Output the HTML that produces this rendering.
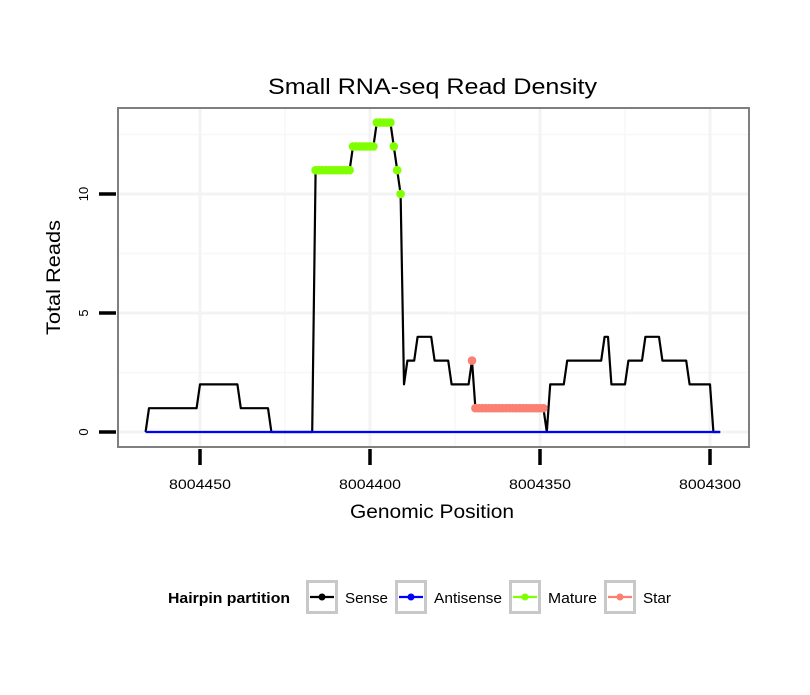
<!DOCTYPE html>
<html><head><meta charset="utf-8"><style>
body{margin:0;background:#fff}
svg text{font-family:"Liberation Sans",sans-serif}
</style></head><body>
<svg id="chart" width="810" height="690" xmlns="http://www.w3.org/2000/svg">
<rect x="0" y="0" width="810" height="690" fill="#fff"/>
<text x="268" y="94" font-size="22" textLength="329" lengthAdjust="spacingAndGlyphs">Small RNA-seq Read Density</text>
<rect x="118" y="108" width="631" height="339" fill="#fff"/>
<g id="grid"></g>
<g id="series"></g>
<rect x="118" y="108" width="631" height="339" fill="none" stroke="#7f7f7f" stroke-width="2"/>
<g id="axes"></g>
<text x="350" y="518" font-size="19" textLength="164" lengthAdjust="spacingAndGlyphs">Genomic Position</text>
<text transform="translate(60,335) rotate(-90)" font-size="19" textLength="115" lengthAdjust="spacingAndGlyphs">Total Reads</text>
<g>
<text x="168" y="603" font-size="15" font-weight="bold" textLength="122" lengthAdjust="spacingAndGlyphs">Hairpin partition</text>
<g id="legend"></g>
</g>
</svg>
<script>
const startPos = 8004466;
const senseValues = [0,
1,1,1,1,1,1,1,1,1,1,1,1,1,1,1,
2,2,2,2,2,2,2,2,2,2,2,2,
1,1,1,1,1,1,1,1,1,
0,0,0,0,0,0,0,0,0,0,0,0,0,
11,11,11,11,11,11,11,11,11,11,11,
12,12,12,12,12,12,12,
13,13,13,13,13,
12,11,10,
2,
3,3,3,
4,4,4,4,4,
3,3,3,3,3,
2,2,2,2,2,2,
3,
1,1,1,1,1,1,1,1,1,1,1,1,1,1,1,1,1,1,1,1,1,
0,
2,2,2,2,2,
3,3,3,3,3,3,3,3,3,3,3,
4,4,
2,2,2,2,2,
3,3,3,3,3,
4,4,4,4,4,
3,3,3,3,3,3,3,3,
2,2,2,2,2,2,2,
0,0,0];
const matureRange = [8004416, 8004391];
const starRange = [8004370, 8004349];
const xTicks = [8004450, 8004400, 8004350, 8004300];
const xMinor = [8004425, 8004375, 8004325];
const yTicks = [0, 5, 10];
const yMinor = [2.5, 7.5, 12.5];
const legendLabels = ["Sense","Antisense","Mature","Star"];
const legendColors = ["#000000","#0000ff","#7fff00","#fa8072"];

const NS = "http://www.w3.org/2000/svg";
function X(p){ return 200 + (8004450 - p) * 3.4; }
function Y(v){ return 432 - v * 23.8; }
function mk(tag, attrs, parent){ const e = document.createElementNS(NS, tag); for (const k in attrs) e.setAttribute(k, attrs[k]); parent.appendChild(e); return e; }

const grid = document.getElementById('grid');
xMinor.forEach(p=>{ const l=mk('line',{x1:X(p),x2:X(p),y1:108,y2:447,stroke:'#f7f7f7','stroke-width':1.5},grid);

 });
yMinor.forEach(v=>{ const l=mk('line',{x1:118,x2:749,y1:Y(v),y2:Y(v),stroke:'#f7f7f7','stroke-width':1.5},grid);

 });
xTicks.forEach(p=>{ const l=mk('line',{x1:X(p),x2:X(p),y1:108,y2:447,stroke:'#f3f3f3','stroke-width':3},grid);

 });
yTicks.forEach(v=>{ const l=mk('line',{x1:118,x2:749,y1:Y(v),y2:Y(v),stroke:'#f3f3f3','stroke-width':3},grid);

 });

const series = document.getElementById('series');
const pts = senseValues.map((v,i)=>[X(startPos - i), Y(v)]);
const sense = mk('polyline',{points:pts.map(p=>p.join(',')).join(' '),fill:'none',stroke:'#000','stroke-width':2.2,'stroke-linejoin':'round'},series);


const anti = mk('line',{x1:X(startPos),x2:X(startPos-senseValues.length+1),y1:Y(0),y2:Y(0),stroke:'#0000ff','stroke-width':2.2},series);


senseValues.forEach((v,i)=>{
  const p = startPos - i;
  let col = null, nm = null;
  if (p <= matureRange[0] && p >= matureRange[1]) { col = '#7fff00'; nm = 'mature-point'; }
  else if (p <= starRange[0] && p >= starRange[1]) { col = '#fa8072'; nm = 'star-point'; }
  if (col) {
    const c = mk('circle',{cx:X(p),cy:Y(v),r:4.3,fill:col},series);
    
    
  }
});

const axes = document.getElementById('axes');
xTicks.forEach(p=>{
  const t=mk('line',{x1:X(p),x2:X(p),y1:449,y2:465,stroke:'#000','stroke-width':3.5},axes);
  
  
  const tx=mk('text',{x:X(p)-31,y:489,'font-size':14,textLength:62,lengthAdjust:'spacingAndGlyphs'},axes);
  tx.textContent = p;
  
  
});
yTicks.forEach(v=>{
  const t=mk('line',{x1:99,x2:116,y1:Y(v),y2:Y(v),stroke:'#000','stroke-width':3.5},axes);
  
  
  const tx=mk('text',{transform:`translate(88,${Y(v)}) rotate(-90)`,'font-size':13,'text-anchor':'middle'},axes);
  tx.textContent = v;
  
  
});

const legend = document.getElementById('legend');
const boxX = [306, 395, 509, 604];
const labW = [43, 68, 49, 28];
legendLabels.forEach((lab,i)=>{
  const g = mk('g',{},legend);
  
  
  const bx = boxX[i];
  mk('rect',{x:bx+1.5,y:581.5,width:29,height:31,fill:'#fff',stroke:'#c8c8c8','stroke-width':3},g);
  mk('line',{x1:bx+4,x2:bx+28,y1:597,y2:597,stroke:legendColors[i],'stroke-width':2.2},g);
  mk('circle',{cx:bx+16,cy:597,r:3.5,fill:legendColors[i]},g);
  const t = mk('text',{x:bx+39,y:603,'font-size':15,textLength:labW[i],lengthAdjust:'spacingAndGlyphs'},g);
  t.textContent = lab;
});
</script>
</body></html>
